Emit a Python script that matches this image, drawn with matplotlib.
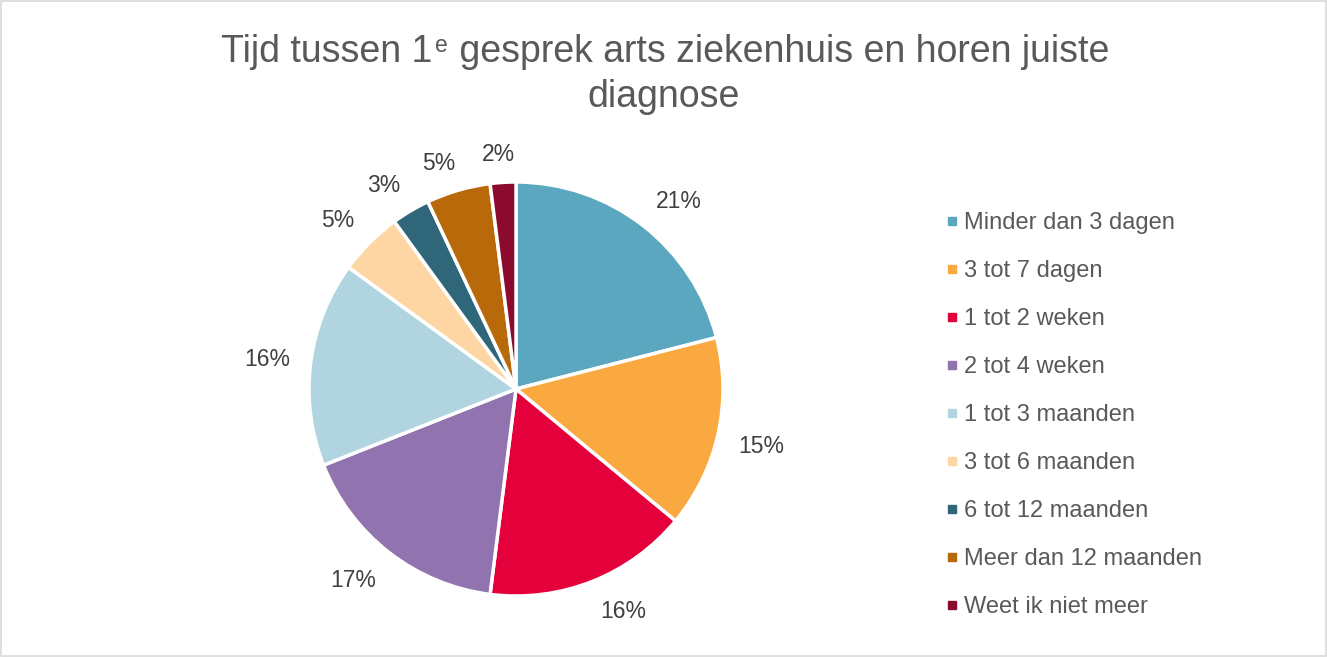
import numpy as np
import matplotlib.pyplot as plt
from matplotlib.patches import Rectangle

plt.rcParams['font.family'] = ['Liberation Sans', 'DejaVu Sans']

# data
labels = ['Minder dan 3 dagen', '3 tot 7 dagen', '1 tot 2 weken', '2 tot 4 weken',
          '1 tot 3 maanden', '3 tot 6 maanden', '6 tot 12 maanden',
          'Meer dan 12 maanden', 'Weet ik niet meer']
values = [21, 15, 16, 17, 16, 5, 3, 5, 2]
colors = ['#5BA7C0', '#FAA940', '#E4003A', '#9174AF', '#B1D5E0',
          '#FDD6A3', '#2F6679', '#B8690A', '#8B0A2E']

W, H = 1327, 657
fig = plt.figure(figsize=(W / 100, H / 100), dpi=100)
fig.patches.append(Rectangle((0.001, 0.001), 0.998, 0.997, transform=fig.transFigure,
                             fill=False, edgecolor='#D9D9D9', linewidth=1.2))
renderer = fig.canvas.get_renderer()

# pie axes: center (516, 389), radius ~207 px
r = 207
ax = fig.add_axes([(516 - r) / W, (H - 389 - r) / H, 2 * r / W, 2 * r / H])
wedges, _ = ax.pie(values, colors=colors, startangle=90, counterclock=False,
                   wedgeprops=dict(edgecolor='white', linewidth=2.5))
ax.set_xlim(-1, 1)
ax.set_ylim(-1, 1)
ax.set_aspect('equal')

# data labels just outside the wedge, box corner towards the pie (Excel style)
gap = 21 / r
for w, v in zip(wedges, values):
    ang = np.deg2rad((w.theta1 + w.theta2) / 2)
    ux, uy = np.cos(ang), np.sin(ang)
    t = ax.text(0, 0, f'{v}%', fontsize=16.5, color='#404040', ha='center', va='center')
    hw, hh = t.get_window_extent(renderer).width / 2 / r, 9 / r
    sx, sy = np.clip(3 * ux, -1, 1), np.clip(3 * uy, -1, 1)
    t.set_position(((1 + gap) * ux + hw * sx, (1 + gap) * uy + hh * sy - 2 / r))

# title with a real superscript "e"
tcol = '#595959'
fs = 27
y1 = 1 - 62 / H
parts = [('Tijd tussen 1', fs, 0), ('e', 16.5, 10), (' gesprek arts ziekenhuis en horen juiste', fs, 0)]
objs = []
for s, size, rise in parts:
    t = fig.text(0, y1 + rise / H, s, fontsize=size, color=tcol, ha='left', va='baseline')
    objs.append(t)
widths = [t.get_window_extent(renderer).width for t in objs]
x = (W - sum(widths)) / 2
for t, wd in zip(objs, widths):
    t.set_x(x / W)
    x += wd + 2
fig.text(0.5, 1 - 107 / H, 'diagnose', ha='center', va='baseline', fontsize=fs, color=tcol)

# legend
for i, (lab, c) in enumerate(zip(labels, colors)):
    yc = 221 + 48 * i
    fig.patches.append(Rectangle((948 / W, 1 - (yc + 4) / H), 8 / W, 8 / H,
                                 transform=fig.transFigure, color=c))
    fig.text(964 / W, 1 - (yc + 2) / H, lab, ha='left', va='center', fontsize=17, color=tcol)

fig.savefig('out.png', dpi=100)
